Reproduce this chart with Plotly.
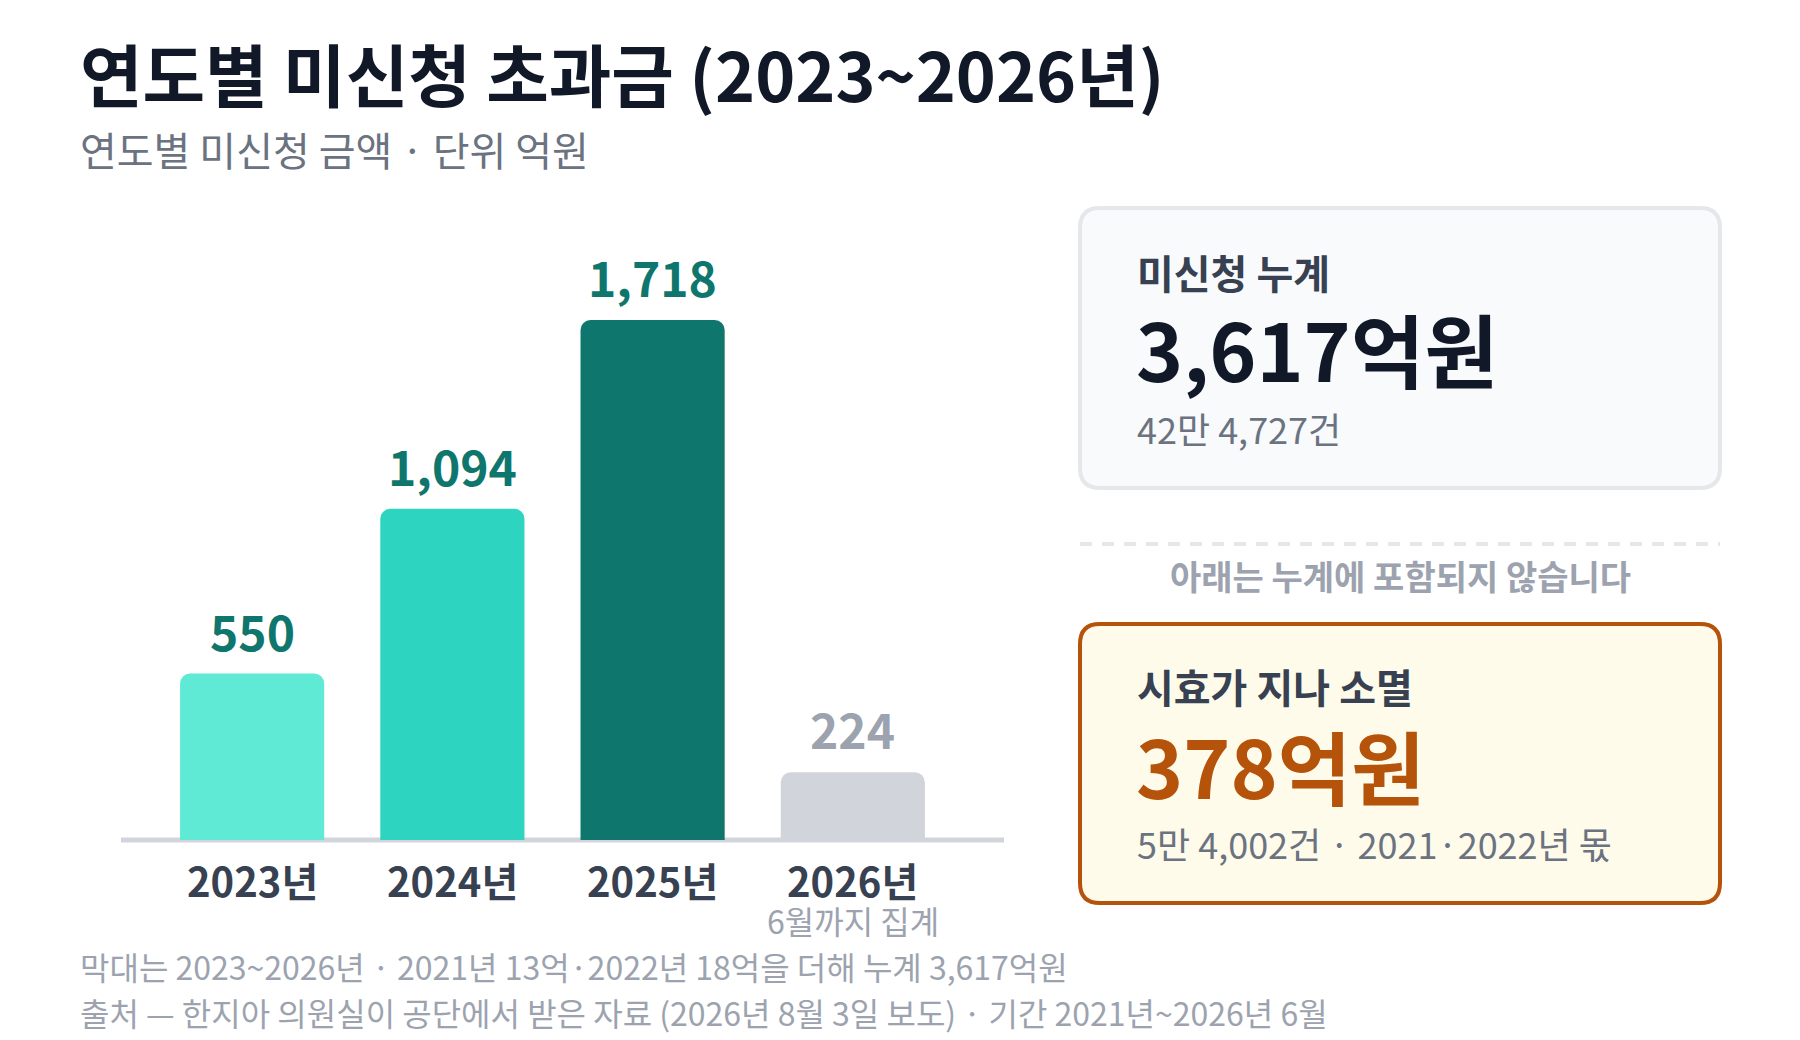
import plotly.graph_objects as go

# --- data ---
years = ["2023년", "2024년", "2025년", "2026년"]
amounts = [550, 1094, 1718, 224]  # 억원
bar_colors = ["#5EEAD4", "#2DD4BF", "#0F766E", "#D1D5DB"]
label_colors = ["#0F766E", "#0F766E", "#0F766E", "#9CA3AF"]

title = "연도별 미신청 초과금 (2023~2026년)"
subtitle = "연도별 미신청 금액 · 단위 억원"
year_note = "6월까지 집계"
footnotes = [
    "막대는 2023~2026년 · 2021년 13억·2022년 18억을 더해 누계 3,617억원",
    "출처 — 한지아 의원실이 공단에서 받은 자료 (2026년 8월 3일 보도) · 기간 2021년~2026년 6월",
]

total_label = "미신청 누계"
total_value = "3,617억원"
total_count = "42만 4,727건"
divider_note = "아래는 누계에 포함되지 않습니다"
expired_label = "시효가 지나 소멸"
expired_value = "378억원"
expired_count = "5만 4,002건 · 2021·2022년 몫"

W, H = 1800, 1040
FONT = "Noto Sans CJK KR"


def px(x):
    return x / W


def py(y):
    return 1 - y / H


def rounded_rect(x0, y0, x1, y1, r):
    # rounded box given in pixels -> svg path in paper coords
    pts = [
        ("M", [(x0 + r, y0)]),
        ("L", [(x1 - r, y0)]),
        ("Q", [(x1, y0), (x1, y0 + r)]),
        ("L", [(x1, y1 - r)]),
        ("Q", [(x1, y1), (x1 - r, y1)]),
        ("L", [(x0 + r, y1)]),
        ("Q", [(x0, y1), (x0, y1 - r)]),
        ("L", [(x0, y0 + r)]),
        ("Q", [(x0, y0), (x0 + r, y0)]),
    ]
    s = ""
    for cmd, ps in pts:
        s += cmd + " " + " ".join(f"{px(a):.5f},{py(b):.5f}" for a, b in ps) + " "
    return s + "Z"


fig = go.Figure()
fig.add_trace(go.Bar(
    x=years, y=amounts,
    marker=dict(color=bar_colors, line=dict(width=0)),
    hoverinfo="skip", showlegend=False,
))

annotations = []

def txt(x, y, text, size, color, bold=False, anchor="left"):
    annotations.append(dict(
        x=px(x), y=py(y), xref="paper", yref="paper",
        text=f"<b>{text}</b>" if bold else text,
        showarrow=False, xanchor=anchor, yanchor="middle",
        font=dict(family=FONT, size=size, color=color),
    ))

# title block
txt(78, 73, title, 68, "#111827", bold=True)
txt(78, 149, subtitle, 40, "#6B7280")

# value labels above bars, year labels under the baseline
for yr, v, c in zip(years, amounts, label_colors):
    annotations.append(dict(
        x=yr, y=v, xref="x", yref="y", text=f"<b>{v:,}</b>",
        showarrow=False, yanchor="middle", yshift=44,
        font=dict(family=FONT, size=48, color=c),
    ))
    annotations.append(dict(
        x=yr, y=0, xref="x", yref="y", text=f"<b>{yr}</b>",
        showarrow=False, yanchor="middle", yshift=-40,
        font=dict(family=FONT, size=40, color="#374151"),
    ))
annotations.append(dict(
    x=years[-1], y=0, xref="x", yref="y", text=year_note,
    showarrow=False, yanchor="middle", yshift=-80,
    font=dict(family=FONT, size=32, color="#9CA3AF"),
))

# footnotes
txt(78, 966, footnotes[0], 32, "#9CA3AF")
txt(78, 1012, footnotes[1], 32, "#9CA3AF")

# cards on the right
txt(1135, 272, total_label, 40, "#374151", bold=True)
txt(1134, 347, total_value, 80, "#111827", bold=True)
txt(1135, 428, total_count, 36, "#6B7280")
txt(1400, 575, divider_note, 34, "#9CA3AF", bold=True, anchor="center")
txt(1135, 686, expired_label, 40, "#374151", bold=True)
txt(1134, 764, expired_value, 80, "#B45309", bold=True)
txt(1135, 843, expired_count, 36, "#6B7280")

y_zero, y_per = 840, 0.3027
y_top = 2000

shapes = [
    # baseline under the bars
    dict(type="line", xref="paper", yref="paper", x0=px(121), x1=px(1004),
         y0=py(y_zero), y1=py(y_zero), line=dict(color="#D1D5DB", width=5), layer="below"),
    dict(type="path", xref="paper", yref="paper",
         path=rounded_rect(1080, 208, 1720, 488, 20),
         fillcolor="#F8FAFC", line=dict(color="#E5E7EB", width=4), layer="below"),
    dict(type="line", xref="paper", yref="paper",
         x0=px(1080), x1=px(1720), y0=py(544), y1=py(544),
         line=dict(color="#E5E7EB", width=4, dash="12px,10px")),
    dict(type="path", xref="paper", yref="paper",
         path=rounded_rect(1080, 624, 1720, 903, 20),
         fillcolor="#FEFBEA", line=dict(color="#B45309", width=4), layer="below"),
]

fig.update_layout(
    width=W, height=H,
    margin=dict(l=0, r=0, t=0, b=0),
    paper_bgcolor="white", plot_bgcolor="rgba(0,0,0,0)",
    barcornerradius=10, bargap=0.28,
    xaxis=dict(domain=[px(121), px(1004)], range=[-0.655, 3.755], type="category",
               showticklabels=False, showgrid=False, zeroline=False, showline=False),
    yaxis=dict(domain=[py(y_zero), py(y_zero - y_top * y_per)], range=[0, y_top],
               showticklabels=False, showgrid=False, zeroline=False, showline=False),
    annotations=annotations,
    shapes=shapes,
    font=dict(family=FONT),
)

fig.write_html("out.html", config={"displayModeBar": False},
               post_script="document.body.style.margin='0';")
